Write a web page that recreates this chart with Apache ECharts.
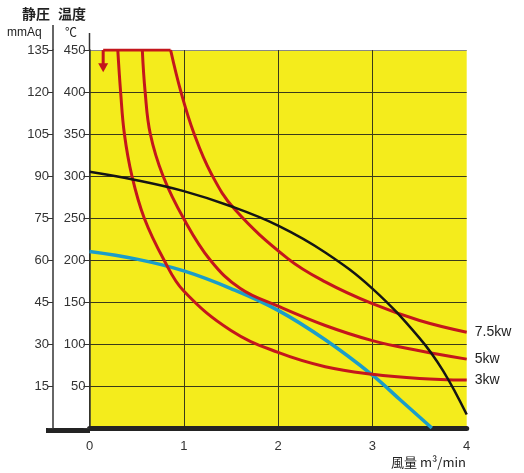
<!DOCTYPE html>
<html>
<head>
<meta charset="utf-8">
<script src="https://cdn.jsdelivr.net/npm/echarts@6/dist/echarts.min.js"></script>
<style>html,body{margin:0;padding:0;background:#fff;}#c{width:524px;height:473px;}</style>
</head>
<body>
<div id="c"></div>
<script>
// ---- data (x: 風量 m³/min, y: 温度 ℃ / 静圧 scale) ----
const pressureCurve = [[0,305],[0.5,295],[1,282],[1.5,264],[2,241],[2.5,209],[3,166],[3.5,107],[3.75,68],[4,16]];
const blueCurve = [[0,210],[0.5,201],[1,187],[1.5,166],[2,140],[2.5,105],[3,63],[3.3,33],[3.63,0]];
const kw3 = [[0.30,450],[0.33,400],[0.37,350],[0.45,300],[0.58,250],[0.79,200],[1.0,163],[1.5,116],[2,90],[2.5,73],[3,64],[3.5,59],[4,57]];
const kw5 = [[0.56,450],[0.59,400],[0.645,350],[0.78,300],[1.0,249],[1.28,200],[1.6,166],[2,145],[2.5,122],[3,104],[3.5,92],[4,82]];
const kw75 = [[0.86,450],[0.97,400],[1.11,350],[1.29,303],[1.535,261],[2.1,202],[2.5,174],[3,148],[3.5,128],[4,114]];
const topLine = [[0.145,450],[0.86,450]];
const arrowLine = [[0.145,450],[0.145,429]];
const seriesNames = ['3kw','5kw','7.5kw'];
const tempTicks = {min:0, max:450, interval:50};
const pressTicks = {min:0, max:135, interval:15};
const flowTicks = {min:0, max:4, interval:1};

const RED = '#c4161c';
const chart = echarts.init(document.getElementById('c'));
const redSeries = (name, data) => ({
  name, type:'line', data, xAxisIndex:0, yAxisIndex:0,
  smooth:0.4, symbol:'none',
  lineStyle:{color:RED, width:3},
  endLabel:{show:true, formatter:'{a}', color:'#222', fontSize:14, distance:8, fontFamily:'Liberation Sans, Arial, sans-serif'},
  z:3
});
chart.setOption({
  animation:false,
  grid:{left:89.5, right:57.3, top:50, bottom:45, show:true, backgroundColor:'#f4ec1c', borderWidth:0},
  xAxis:{type:'value', min:flowTicks.min, max:flowTicks.max, interval:flowTicks.interval, offset:2.5,
    axisLine:{lineStyle:{color:'#232323', width:5}}, axisTick:{show:false},
    axisLabel:{color:'#333', fontSize:13, margin:9, fontFamily:'Liberation Sans, Arial, sans-serif'},
    splitLine:{show:true, lineStyle:{color:['#3a3a1a','#3a3a1a','#3a3a1a','#3a3a1a','rgba(0,0,0,0)'], width:1}}},
  yAxis:[
    {type:'value', position:'left', min:tempTicks.min, max:tempTicks.max, interval:tempTicks.interval,
      axisLine:{show:true, lineStyle:{color:'#333', width:1.5}},
      axisTick:{show:true, length:6, lineStyle:{color:'#333'}},
      axisLabel:{color:'#333', fontSize:13, margin:4, fontFamily:'Liberation Sans, Arial, sans-serif', formatter:v=>v===0?'':String(v)},
      splitLine:{show:true, lineStyle:{color:['#3a3a1a','#3a3a1a','#3a3a1a','#3a3a1a','#3a3a1a','#3a3a1a','#3a3a1a','#3a3a1a','#3a3a1a','#888'], width:1}}},
    {type:'value', position:'left', offset:36.5, min:pressTicks.min, max:pressTicks.max, interval:pressTicks.interval,
      axisLine:{show:true, lineStyle:{color:'#333', width:1.5}},
      axisTick:{show:true, length:5, lineStyle:{color:'#333'}},
      axisLabel:{color:'#333', fontSize:13, margin:4, fontFamily:'Liberation Sans, Arial, sans-serif', formatter:v=>v===0?'':String(v)},
      splitLine:{show:false}}
  ],
  graphic:[
    {type:'line', shape:{x1:53, y1:25, x2:53, y2:50}, style:{stroke:'#333', lineWidth:1.5}},
    {type:'line', shape:{x1:89.5, y1:33, x2:89.5, y2:50}, style:{stroke:'#333', lineWidth:1.5}},
    {type:'rect', shape:{x:46, y:428, width:44, height:5}, style:{fill:'#232323'}},
    {type:'text', left:22, top:7, style:{text:'静圧', fontSize:14, fontWeight:'bold', fill:'#222', fontFamily:'Noto Sans CJK JP'}},
    {type:'text', left:58, top:7, style:{text:'温度', fontSize:14, fontWeight:'bold', fill:'#222', fontFamily:'Noto Sans CJK JP'}},
    {type:'text', left:7, top:27, style:{text:'mmAq', fontSize:12, fill:'#222', fontFamily:'Liberation Sans, Arial, sans-serif'}},
    {type:'text', left:65, top:26, style:{text:'℃', fontSize:12, fill:'#222', fontFamily:'Noto Sans CJK JP'}},
    {type:'text', right:58, top:456, style:{text:'風量 m³/min', fontSize:13, fill:'#222', fontFamily:'Noto Sans CJK JP'}}
  ],
  series:[
    {name:'静圧', type:'line', data:pressureCurve, smooth:0.4, symbol:'none', lineStyle:{color:'#151515', width:2.5}, z:4},
    {name:'温度', type:'line', data:blueCurve, smooth:0.4, symbol:'none', lineStyle:{color:'#1b9dc9', width:3.5}, z:2},
    redSeries(seriesNames[0], kw3),
    redSeries(seriesNames[1], kw5),
    redSeries(seriesNames[2], kw75),
    {name:'top', type:'line', data:topLine, symbol:'none', lineStyle:{color:RED, width:3}, z:3},
    {name:'arrow', type:'line', data:arrowLine.map((p,i)=> i===1 ? {value:p, symbol:'triangle', symbolSize:[10,9], symbolRotate:180} : {value:p, symbol:'none'}),
      showSymbol:true, itemStyle:{color:RED}, lineStyle:{color:RED, width:3}, z:3}
  ]
});
</script>
</body>
</html>
